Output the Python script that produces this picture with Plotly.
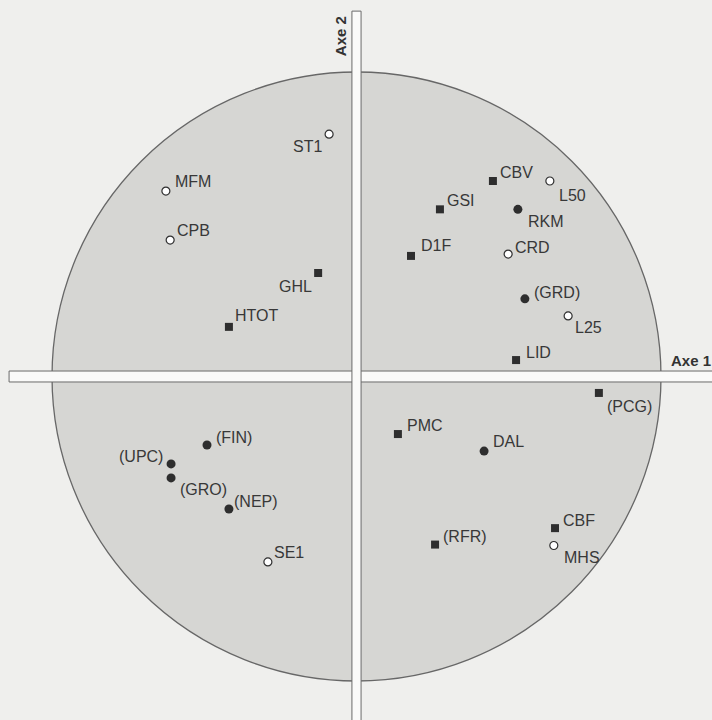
import plotly.graph_objects as go

# Correlation-circle coordinates (Axe 1, Axe 2)
open_names = ["ST1", "MFM", "CPB", "L50", "CRD", "L25", "SE1", "MHS"]
open_x = [-0.090, -0.626, -0.612, 0.635, 0.498, 0.695, -0.291, 0.648]
open_y = [0.796, 0.609, 0.448, 0.642, 0.402, 0.199, -0.609, -0.555]

dot_names = ["RKM", "(GRD)", "DAL", "(FIN)", "(UPC)", "(GRO)", "(NEP)"]
dot_x = [0.530, 0.553, 0.419, -0.491, -0.609, -0.609, -0.419]
dot_y = [0.549, 0.255, -0.245, -0.225, -0.287, -0.333, -0.435]

sq_names = ["GHL", "HTOT", "CBV", "GSI", "D1F", "LID", "(PCG)", "PMC", "(RFR)", "CBF"]
sq_x = [-0.126, -0.419, 0.448, 0.274, 0.179, 0.524, 0.796, 0.136, 0.258, 0.652]
sq_y = [0.340, 0.163, 0.642, 0.549, 0.396, 0.054, -0.054, -0.189, -0.552, -0.498]

# label placement (pixels): horizontal gap to text edge, vertical offset (down +)
open_lab = [(-7, 12.5), (9, -10), (7, -9.5), (9, 14.5), (7, -7), (7, 12), (6, -9.5), (10, 12)]
dot_lab = [(10, 12.5), (9, -6), (9, -9.5), (9, -8), (-8, -7), (9, 12), (5, -7)]
sq_lab = [(-6, 13.5), (6, -11.5), (7, -8.5), (7, -8.5), (10, -10), (10, -8), (8, 14),
          (9, -9), (8, -8), (8, -8)]

INK = "#2e2e2e"
TXT = "#383838"
FAM = "Liberation Sans, Arial, Helvetica, sans-serif"

fig = go.Figure()
fig.add_trace(go.Scatter(
    x=open_x, y=open_y, text=open_names, mode="markers",
    marker=dict(symbol="circle", size=8, color="#ffffff", line=dict(color=INK, width=1.2)),
    hoverinfo="text", showlegend=False))
fig.add_trace(go.Scatter(
    x=dot_x, y=dot_y, text=dot_names, mode="markers",
    marker=dict(symbol="circle", size=9, color=INK, line=dict(width=0)),
    hoverinfo="text", showlegend=False))
fig.add_trace(go.Scatter(
    x=sq_x, y=sq_y, text=sq_names, mode="markers",
    marker=dict(symbol="square", size=8, color=INK, line=dict(width=0)),
    hoverinfo="text", showlegend=False))

annotations = []
for names, xs, ys, labs in [(open_names, open_x, open_y, open_lab),
                            (dot_names, dot_x, dot_y, dot_lab),
                            (sq_names, sq_x, sq_y, sq_lab)]:
    for n, x, y, (dx, dy) in zip(names, xs, ys, labs):
        annotations.append(dict(
            text=n, x=x, y=y, xref="x", yref="y", showarrow=False,
            xanchor="left" if dx > 0 else "right", yanchor="middle",
            xshift=dx - 2 if dx > 0 else dx + 2, yshift=-dy,
            font=dict(family=FAM, size=16, color=TXT)))

annotations += [
    dict(text="<b>Axe 2</b>", xref="x", yref="y", x=-0.054, y=1.118, textangle=-90,
         showarrow=False, font=dict(family=FAM, size=15, color="#333333")),
    dict(text="<b>Axe 1</b>", xref="x", yref="y", x=1.025, y=0.051, xanchor="left",
         showarrow=False, font=dict(family=FAM, size=15, color="#333333")),
]

shapes = [
    dict(type="circle", xref="x", yref="y", x0=-1, x1=1, y0=-1, y1=1,
         fillcolor="#d6d6d3", line=dict(color="#676767", width=1.3), layer="below"),
    # horizontal axis bar
    dict(type="rect", xref="x", yref="y", x0=-1.141, x1=1.30, y0=-0.018, y1=0.018,
         fillcolor="#fafaf9", line=dict(color="#6a6a6a", width=1), layer="below"),
    # vertical axis bar
    dict(type="rect", xref="x", yref="y", x0=-0.015, x1=0.015, y0=-1.30, y1=1.200,
         fillcolor="#fafaf9", line=dict(color="#6a6a6a", width=1), layer="below"),
]

fig.update_layout(
    width=712, height=720, margin=dict(l=0, r=0, t=0, b=0),
    paper_bgcolor="#efefed", plot_bgcolor="#efefed",
    shapes=shapes, annotations=annotations,
    xaxis=dict(range=[-1.1708, 1.1675], visible=False, fixedrange=True),
    yaxis=dict(range=[-1.1281, 1.2365], visible=False, fixedrange=True),
)

fig.write_html("out.html", config={"displayModeBar": False},
               post_script="document.body.style.margin='0px';")
